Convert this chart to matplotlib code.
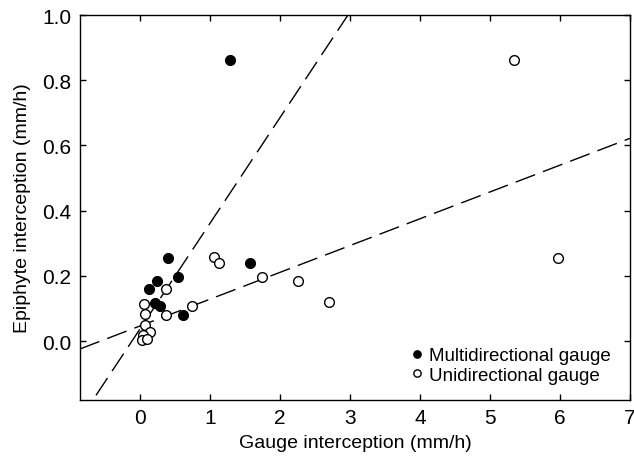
import matplotlib
matplotlib.use("Agg")
import matplotlib.pyplot as plt
import numpy as np

plt.rcParams["font.family"] = ["Liberation Sans", "DejaVu Sans"]

# ---- data --------------------------------------------------------------------
multi_x = [1.29, 0.40, 0.54, 0.24, 0.13, 0.21, 0.29, 0.62, 1.57]
multi_y = [0.862, 0.255, 0.196, 0.183, 0.160, 0.117, 0.109, 0.080, 0.239]

uni_x = [0.38, 0.06, 0.08, 0.08, 0.14, 0.05, 0.03, 0.10, 0.38, 0.75,
         1.06, 1.13, 1.75, 2.26, 2.70, 5.34, 5.97]
uni_y = [0.160, 0.114, 0.083, 0.050, 0.027, 0.020, 0.004, 0.007, 0.079, 0.109,
         0.257, 0.239, 0.196, 0.183, 0.119, 0.862, 0.254]

# fitted lines (slope, intercept)
multi_fit = (0.324, 0.037)
uni_fit = (0.0822, 0.0465)

x_ticks = [0, 1, 2, 3, 4, 5, 6, 7]
y_ticks = [0.0, 0.2, 0.4, 0.6, 0.8, 1.0]
x_lim = (-0.857, 7.0)
y_lim = (-0.18, 1.0)

fig = plt.figure(figsize=(6.34, 4.64), dpi=100)
ax = fig.add_axes([0.126, 0.136, 0.8677, 0.8295])

xx = np.array(x_lim)
for slope, icpt in (multi_fit, uni_fit):
    ln, = ax.plot(xx, slope * xx + icpt, color="black", lw=1.0)
    ln.set_dashes((15, 6))

ax.plot(multi_x, multi_y, "o", ms=7, mfc="black", mec="black", mew=1.0,
        ls="none", label="Multidirectional gauge")
ax.plot(uni_x, uni_y, "o", ms=7, mfc="white", mec="black", mew=1.0,
        ls="none", label="Unidirectional gauge")

ax.set_xlim(*x_lim)
ax.set_ylim(*y_lim)
ax.set_xticks(x_ticks)
ax.set_yticks(y_ticks)
ax.set_yticklabels([f"{v:.1f}" for v in y_ticks])
ax.tick_params(direction="in", length=4, width=1, top=True, right=True,
               labelsize=15, pad=6)
for sp in ax.spines.values():
    sp.set_linewidth(1.0)

ax.set_xlabel("Gauge interception (mm/h)", fontsize=14, labelpad=5)
ax.set_ylabel("Epiphyte interception (mm/h)", fontsize=14, labelpad=8)

ax.legend(loc="lower right", bbox_to_anchor=(0.985, 0.012), frameon=False,
          fontsize=13.5, markerscale=0.75, handlelength=0.6, handletextpad=0.35,
          labelspacing=0.15, borderaxespad=0.2)

fig.savefig("out.png", dpi=100)
